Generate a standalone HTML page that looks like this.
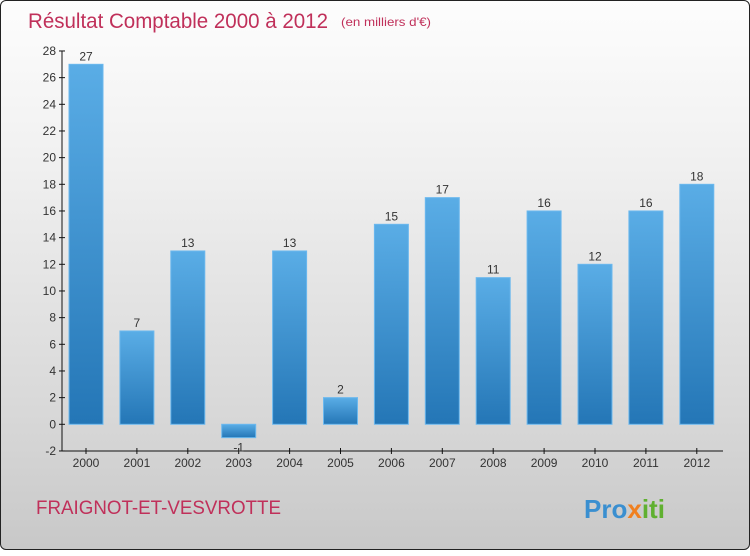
<!DOCTYPE html>
<html><head><meta charset="utf-8"><style>
body{margin:0;width:750px;height:550px;overflow:hidden;font-family:"Liberation Sans",sans-serif}
#wrap{position:absolute;left:0;top:0;width:748px;height:548px;border:1px solid #222;border-radius:6px;background:linear-gradient(#fdfdfd,#f0f0f0 30%,#d8d8d8 75%,#c8c8c8)}
</style></head><body>
<div id="wrap">
<svg width="750" height="550" id="svg">
<defs>
<linearGradient id="g" x1="0" y1="0" x2="0" y2="1"><stop offset="0" stop-color="#5aade6"/><stop offset="1" stop-color="#2476b6"/></linearGradient>
</defs>
<text x="27" y="27" font-size="21" textLength="300" lengthAdjust="spacingAndGlyphs" fill="#c0305a">Résultat Comptable 2000 à 2012</text>
<text x="340" y="25" font-size="12" textLength="90" lengthAdjust="spacingAndGlyphs" fill="#c0305a">(en milliers d'€)</text>
<text x="35" y="513" font-size="19" textLength="245" lengthAdjust="spacingAndGlyphs" fill="#c0305a">FRAIGNOT-ET-VESVROTTE</text>
<text x="583" y="517" font-size="26" font-weight="bold" fill="#3a8fd0">Pro<tspan fill="#f08020">x</tspan><tspan fill="#60b030">iti</tspan></text>
<g id="plot"></g>
</svg></div>
<script>
const years=["2000","2001","2002","2003","2004","2005","2006","2007","2008","2009","2010","2011","2012"];
const values=[27,7,13,-1,13,2,15,17,11,16,12,16,18];
const yTicks=[-2,0,2,4,6,8,10,12,14,16,18,20,22,24,26,28];
const NS="http://www.w3.org/2000/svg";
const g=document.getElementById('plot');
const y=v=>423.3-(v)*13.333;
const x=i=>85+i*50.9;
function mk(t,a){const e=document.createElementNS(NS,t);for(const k in a)e.setAttribute(k,a[k]);g.appendChild(e);return e;}
let ax=mk('line',{x1:61,y1:50,x2:61,y2:450,stroke:'#111'});


let bx=mk('line',{x1:61,y1:450,x2:722,y2:450,stroke:'#111'});


yTicks.forEach(v=>{
  mk('line',{x1:58,x2:64,y1:y(v),y2:y(v),stroke:'#111'});
  const t=mk('text',{x:55,y:y(v)+4,'font-size':12,'text-anchor':'end',fill:'#333'});t.textContent=v;
  
  
});
years.forEach((yr,i)=>{
  const v=values[i];
  mk('line',{x1:x(i),x2:x(i),y1:447,y2:453,stroke:'#111'});
  const t=mk('text',{x:x(i),y:466,'font-size':12,'text-anchor':'middle',fill:'#333'});t.textContent=yr;
  
  
  const top=Math.min(y(v),y(0)),h=Math.abs(y(v)-y(0));
  const r=mk('rect',{x:x(i)-17,y:top,width:34,height:h,fill:'url(#g)',stroke:'#6bb8ee','stroke-width':1});
  
  
  const l=mk('text',{x:x(i),y:v>=0?y(v)-4:y(v)+14,'font-size':12,'text-anchor':'middle',fill:'#333'});l.textContent=v;
  
  
});
</script>
</body></html>
